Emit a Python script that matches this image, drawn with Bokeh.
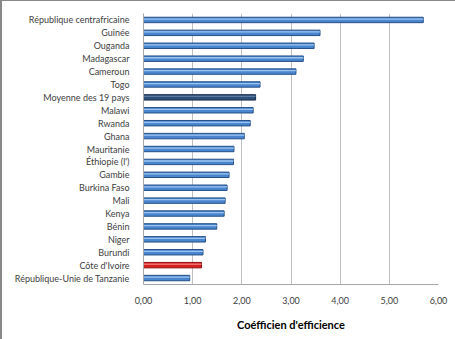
from bokeh.plotting import figure
from bokeh.models import ColumnDataSource, FixedTicker
from bokeh.transform import dodge
from bokeh.embed import file_html
from bokeh.resources import INLINE

countries = ["République centrafricaine", "Guinée", "Ouganda", "Madagascar", "Cameroun",
             "Togo", "Moyenne des 19 pays", "Malawi", "Rwanda", "Ghana", "Mauritanie",
             "Éthiopie (l')", "Gambie", "Burkina Faso", "Mali", "Kenya", "Bénin", "Niger",
             "Burundi", "Côte d'Ivoire", "République-Unie de Tanzanie"]
values = [5.69, 3.59, 3.47, 3.25, 3.10, 2.37, 2.28, 2.23, 2.17, 2.05, 1.84,
          1.83, 1.74, 1.70, 1.66, 1.64, 1.49, 1.26, 1.21, 1.18, 0.94]
tick_values = [0, 1, 2, 3, 4, 5, 6]
tick_labels = ["0,00", "1,00", "2,00", "3,00", "4,00", "5,00", "6,00"]
x_title = "Coéfficien d'efficience"

fills, lines, highs = [], [], []
for c in countries:
    if c == "Moyenne des 19 pays":
        fills.append("#2E4F7A"); lines.append("#1A2E4A"); highs.append("#5A7BA6")
    elif c == "Côte d'Ivoire":
        fills.append("#D91E1E"); lines.append("#8E1010"); highs.append("#F07070")
    else:
        fills.append("#4A86CF"); lines.append("#244F86"); highs.append("#9CC4F0")

src = ColumnDataSource(dict(cat=countries, val=values, fill=fills, line=lines, high=highs))

p = figure(width=455, height=339, y_range=list(reversed(countries)), x_range=(0, 6),
           output_backend="svg", toolbar_location=None,
           min_border_left=141, min_border_right=19, min_border_top=12, min_border_bottom=56)

p.hbar(y="cat", right="val", left=0, height=0.42, source=src,
       fill_color="fill", line_color="line", line_width=1)
p.hbar(y=dodge("cat", 0.07, range=p.y_range), right="val", left=0, height=0.1, source=src,
       fill_color="high", line_color=None)

p.outline_line_color = None
p.ygrid.grid_line_color = None
p.xgrid.grid_line_color = "#BFBFBF"
p.xaxis.ticker = FixedTicker(ticks=tick_values)
p.xaxis.major_label_overrides = {v: l for v, l in zip(tick_values, tick_labels)}
p.xaxis.axis_line_color = "#A6A6A6"
p.yaxis.axis_line_color = "#A6A6A6"
for ax in (p.xaxis, p.yaxis):
    ax.major_tick_line_color = None
    ax.minor_tick_line_color = None
    ax.major_label_text_font = "Lato"
    ax.major_label_text_font_size = "9px"
    ax.major_label_text_color = "#404040"
p.xaxis.major_label_standoff = 6
p.yaxis.major_label_standoff = 8
p.xaxis.axis_label = x_title
p.xaxis.axis_label_text_font = "Lato"
p.xaxis.axis_label_text_font_style = "bold"
p.xaxis.axis_label_text_font_size = "11px"
p.xaxis.axis_label_text_color = "#000000"
p.xaxis.axis_label_standoff = 11
p.styles = {"border-top": "1px solid #888888", "border-left": "2px solid #888888",
            "box-sizing": "border-box"}

open("out.html", "w").write(file_html(p, INLINE))
